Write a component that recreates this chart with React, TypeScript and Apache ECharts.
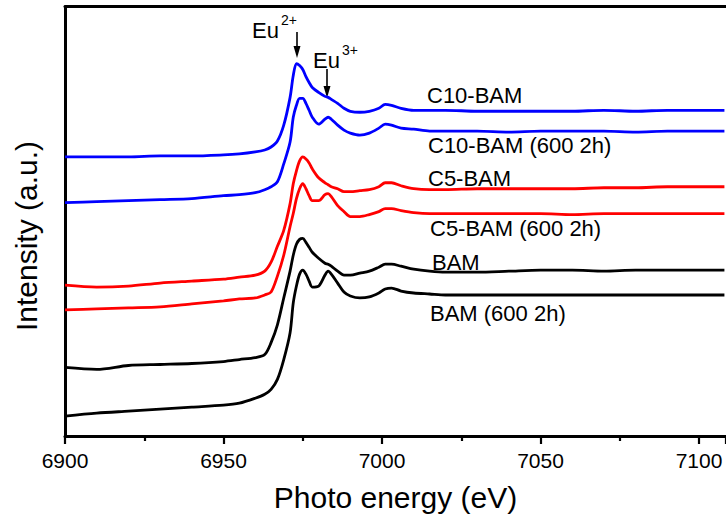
import React, { useEffect, useRef } from "react";
import * as echarts from "echarts";

// Photon energy (eV) sampling points shared by all spectra
const energies = [
  6900, 6910, 6920, 6930, 6940, 6950, 6955, 6960, 6963, 6965,
  6967, 6969, 6971, 6972, 6973, 6974, 6975, 6976, 6977, 6978,
  6980, 6982, 6983, 6984, 6986, 6988, 6990, 6993, 6996, 6999,
  7001, 7003, 7006, 7010, 7015, 7020, 7030, 7040, 7050, 7060,
  7070, 7080, 7090, 7100, 7108,
];

// Offset intensities (a.u.)
const c10Bam = [
  2.80, 2.80, 2.80, 2.81, 2.81, 2.82, 2.83, 2.85, 2.87, 2.90,
  2.96, 3.12, 3.40, 3.62, 3.74, 3.72, 3.68, 3.61, 3.55, 3.50,
  3.45, 3.41, 3.40, 3.38, 3.34, 3.29, 3.26, 3.25, 3.26, 3.29,
  3.33, 3.32, 3.29, 3.27, 3.27, 3.27, 3.26, 3.26, 3.26, 3.26,
  3.27, 3.26, 3.27, 3.27, 3.27,
];
const c10Bam600 = [
  2.34, 2.35, 2.36, 2.37, 2.38, 2.41, 2.42, 2.44, 2.47, 2.50,
  2.55, 2.73, 2.95, 3.20, 3.32, 3.39, 3.39, 3.34, 3.27, 3.20,
  3.13, 3.18, 3.20, 3.18, 3.12, 3.07, 3.04, 3.02, 3.04, 3.09,
  3.13, 3.12, 3.09, 3.08, 3.06, 3.06, 3.06, 3.05, 3.06, 3.06,
  3.06, 3.05, 3.06, 3.06, 3.06,
];
const c5Bam = [
  1.51, 1.49, 1.50, 1.53, 1.55, 1.57, 1.59, 1.61, 1.65, 1.74,
  1.90, 2.06, 2.33, 2.53, 2.66, 2.76, 2.80, 2.78, 2.74, 2.68,
  2.59, 2.54, 2.52, 2.50, 2.48, 2.45, 2.45, 2.46, 2.47, 2.50,
  2.54, 2.54, 2.51, 2.48, 2.47, 2.47, 2.48, 2.48, 2.48, 2.48,
  2.49, 2.49, 2.50, 2.50, 2.50,
];
const c5Bam600 = [
  1.26, 1.27, 1.28, 1.29, 1.32, 1.35, 1.37, 1.38, 1.41, 1.44,
  1.60, 1.81, 2.10, 2.23, 2.38, 2.48, 2.53, 2.48, 2.41, 2.36,
  2.36, 2.42, 2.43, 2.40, 2.31, 2.25, 2.20, 2.20, 2.22, 2.25,
  2.28, 2.28, 2.26, 2.24, 2.23, 2.23, 2.23, 2.23, 2.23, 2.22,
  2.23, 2.23, 2.23, 2.23, 2.23,
];
const bam = [
  0.68, 0.66, 0.70, 0.71, 0.72, 0.74, 0.76, 0.78, 0.81, 0.93,
  1.11, 1.38, 1.65, 1.81, 1.92, 1.97, 1.98, 1.94, 1.89, 1.84,
  1.78, 1.73, 1.72, 1.70, 1.65, 1.61, 1.61, 1.63, 1.65, 1.69,
  1.72, 1.72, 1.70, 1.67, 1.65, 1.64, 1.64, 1.65, 1.66, 1.66,
  1.65, 1.66, 1.66, 1.66, 1.66,
];
const bam600 = [
  0.19, 0.22, 0.24, 0.26, 0.28, 0.30, 0.32, 0.37, 0.41, 0.46,
  0.56, 0.76, 1.03, 1.33, 1.50, 1.62, 1.66, 1.62, 1.55, 1.49,
  1.50, 1.61, 1.65, 1.62, 1.53, 1.44, 1.40, 1.38, 1.39, 1.43,
  1.47, 1.48, 1.45, 1.43, 1.42, 1.41, 1.41, 1.41, 1.41, 1.41,
  1.41, 1.41, 1.41, 1.41, 1.41,
];

const seriesNames = [
  "C10-BAM",
  "C10-BAM (600 2h)",
  "C5-BAM",
  "C5-BAM (600 2h)",
  "BAM",
  "BAM (600 2h)",
];
const seriesValues = [c10Bam, c10Bam600, c5Bam, c5Bam600, bam, bam600];
const seriesColors = ["#0000ff", "#0000ff", "#ff0000", "#ff0000", "#000000", "#000000"];

const xMin = 6900;
const xMax = 7108.5;
const xStep = 50;
const yMin = -0.01;
const yMax = 4.315;

const FONT = "'Liberation Sans', Arial, Helvetica, sans-serif";

export default function App() {
  const ref = useRef<HTMLDivElement>(null);

  useEffect(() => {
    if (!ref.current) return;
    const chart = echarts.init(ref.current, null, { renderer: "svg" });

    const series = seriesNames.map((name, i) => ({
      name,
      type: "line",
      data: energies.map((e, k) => [e, seriesValues[i][k]]),
      showSymbol: false,
      smooth: 0.3,
      lineStyle: { color: seriesColors[i], width: 2.8 },
      itemStyle: { color: seriesColors[i] },
      z: 3,
    }));

    const labelPos = [
      [427, 95],
      [428, 145],
      [428, 178],
      [430, 228],
      [432, 262],
      [430, 313],
    ];

    const textStyle = (size: number) => ({
      fill: "#000",
      fontSize: size,
      fontFamily: FONT,
    });

    chart.setOption({
      animation: false,
      backgroundColor: "#ffffff",
      grid: { left: 65, right: 0, top: 6.5, bottom: 78, containLabel: false },
      xAxis: [
        {
          type: "value",
          min: xMin,
          max: xMax,
          interval: xStep,
          position: "bottom",
          axisLine: { show: true, onZero: false, lineStyle: { color: "#000", width: 3 } },
          axisTick: { show: true, inside: false, length: 8, lineStyle: { color: "#000", width: 2.2 } },
          minorTick: { show: true, splitNumber: 2, length: 5, lineStyle: { color: "#000", width: 2.2 } },
          splitLine: { show: false },
          axisLabel: {
            color: "#000",
            fontSize: 21,
            fontFamily: FONT,
            margin: 14,
            showMaxLabel: false,
            formatter: (v: number) => (v % xStep === 0 ? String(v) : ""),
          },
          name: "Photo energy (eV)",
          nameLocation: "middle",
          nameGap: 46,
          nameTextStyle: { color: "#000", fontSize: 30, fontFamily: FONT },
        },
        {
          type: "value",
          min: xMin,
          max: xMax,
          position: "top",
          axisLine: { show: true, onZero: false, lineStyle: { color: "#000", width: 3 } },
          axisTick: { show: false },
          axisLabel: { show: false },
          splitLine: { show: false },
        },
      ],
      yAxis: {
        type: "value",
        min: yMin,
        max: yMax,
        axisLine: { show: true, onZero: false, lineStyle: { color: "#000", width: 3 } },
        axisTick: { show: false },
        axisLabel: { show: false },
        splitLine: { show: false },
      },
      series,
      graphic: [
        {
          type: "text",
          x: 26,
          y: 236,
          rotation: Math.PI / 2,
          style: { ...textStyle(30), text: "Intensity (a.u.)", align: "center", verticalAlign: "middle" },
        },
        ...seriesNames.map((name, i) => ({
          type: "text",
          x: labelPos[i][0],
          y: labelPos[i][1],
          style: { ...textStyle(22), text: name, align: "left", verticalAlign: "middle" },
        })),
        // Eu2+ annotation
        { type: "text", x: 252, y: 30, style: { ...textStyle(22), text: "Eu", verticalAlign: "middle" } },
        { type: "text", x: 281, y: 20, style: { ...textStyle(14), text: "2+", verticalAlign: "middle" } },
        { type: "line", shape: { x1: 297, y1: 32, x2: 297, y2: 50 }, style: { stroke: "#000", lineWidth: 1.6 } },
        { type: "polygon", shape: { points: [[293.5, 46], [300.5, 46], [297, 58]] }, style: { fill: "#000" } },
        // Eu3+ annotation
        { type: "text", x: 313, y: 60, style: { ...textStyle(22), text: "Eu", verticalAlign: "middle" } },
        { type: "text", x: 342, y: 50, style: { ...textStyle(14), text: "3+", verticalAlign: "middle" } },
        { type: "line", shape: { x1: 327, y1: 69, x2: 327, y2: 90 }, style: { stroke: "#000", lineWidth: 1.6 } },
        { type: "polygon", shape: { points: [[323.5, 86], [330.5, 86], [327, 98]] }, style: { fill: "#000" } },
      ],
    });

    return () => chart.dispose();
  }, []);

  return (
    <div
      ref={ref}
      style={{ position: "fixed", left: 0, top: 0, width: 726, height: 517, background: "#fff" }}
    />
  );
}
